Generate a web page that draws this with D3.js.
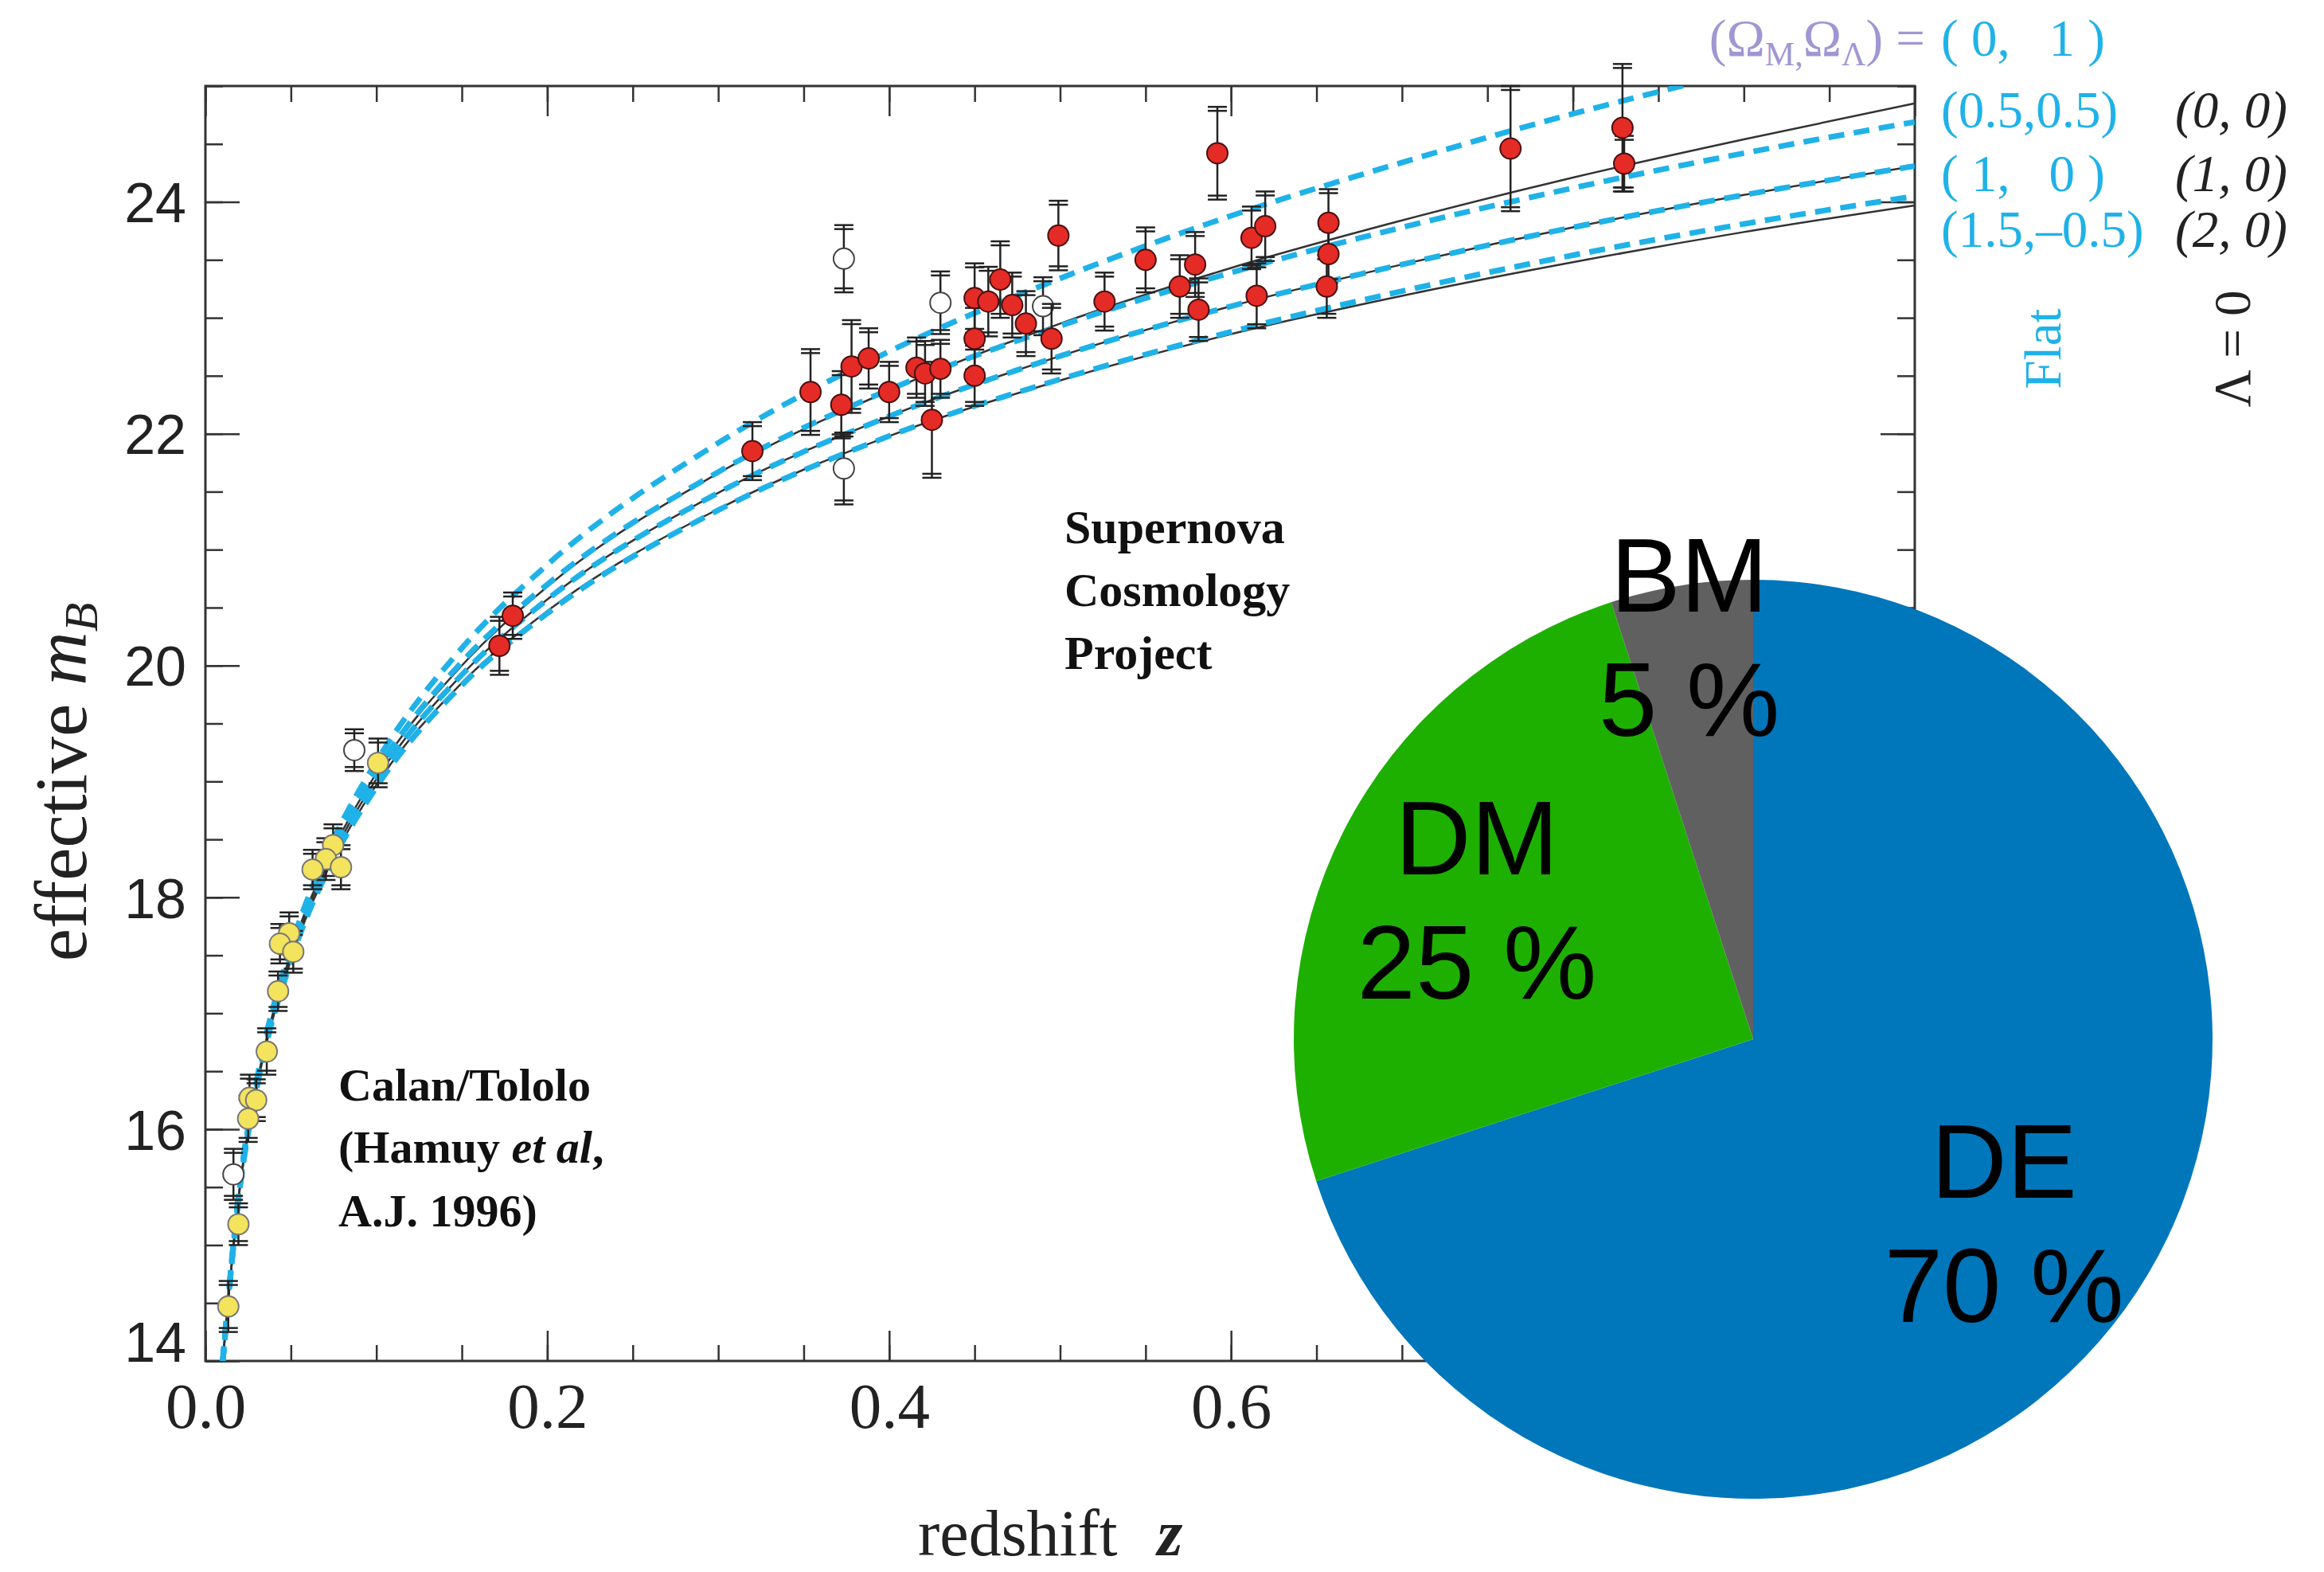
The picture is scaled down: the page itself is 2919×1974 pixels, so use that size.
<!DOCTYPE html>
<html><head><meta charset="utf-8">
<script src="https://cdn.jsdelivr.net/npm/d3@7"></script>
<style>body{margin:0;background:#fff}svg{display:block}text{white-space:pre}</style>
</head><body>
<script>
// ---------- model curves ----------
const zGrid      = [0.01,0.02,0.03,0.05,0.075,0.1,0.15,0.2,0.3,0.4,0.5,0.6,0.7,0.8,0.9,1.0];
const mFlat0_1   = [13.99,15.51,16.42,17.57,18.50,19.17,20.15,20.87,21.92,22.71,23.34,23.88,24.34,24.76,25.13,25.47];
const mFlat05_05 = [13.98,15.50,16.39,17.53,18.44,19.09,20.03,20.70,21.67,22.38,22.93,23.39,23.78,24.12,24.42,24.69];
const mFlat1_0   = [13.97,15.48,16.37,17.49,18.38,19.02,19.92,20.57,21.49,22.15,22.67,23.10,23.46,23.78,24.06,24.31];
const mFlat15_m05= [13.96,15.47,16.35,17.45,18.33,18.95,19.83,20.45,21.34,21.98,22.47,22.88,23.23,23.54,23.81,24.05];
const mL0_0_0    = [13.98,15.49,16.38,17.52,18.42,19.07,20.00,20.68,21.66,22.37,22.95,23.43,23.84,24.21,24.54,24.85];
const mL0_1_0    = [13.97,15.48,16.37,17.49,18.38,19.02,19.92,20.57,21.49,22.15,22.67,23.10,23.46,23.78,24.06,24.31];
const mL0_2_0    = [13.97,15.47,16.35,17.46,18.34,18.97,19.85,20.47,21.35,21.98,22.46,22.86,23.19,23.48,23.74,23.97];

// ---------- Supernova Cosmology Project (red) ----------
const scpZ   = [0.320,0.354,0.372,0.378,0.388,0.400,0.416,0.421,0.430,0.425,0.450,0.450,0.450,0.458,0.465,0.472,0.480,0.495,0.499,0.526,0.592,0.550,0.570,0.579,0.581,0.612,0.620,0.615,0.657,0.657,0.656,0.7635,0.829,0.830,0.1798,0.172];
const scpM   = [21.85,22.36,22.25,22.58,22.65,22.36,22.57,22.52,22.56,22.12,22.50,22.82,23.17,23.14,23.33,23.11,22.95,22.82,23.71,23.14,24.42,23.50,23.27,23.46,23.07,23.69,23.79,23.19,23.82,23.55,23.27,24.46,24.64,24.33,20.43,20.17];
const scpErr = [0.25,0.37,0.29,0.40,0.26,0.26,0.26,0.28,0.25,0.50,0.26,0.30,0.30,0.30,0.33,0.28,0.28,0.30,0.30,0.25,0.40,0.28,0.27,0.28,0.27,0.27,0.30,0.28,0.29,0.25,0.27,0.54,0.55,0.24,0.20,0.25];

// ---------- Calan/Tololo (yellow) ----------
const ctZ   = [0.101,0.0747,0.0705,0.0627,0.0793,0.049,0.0436,0.0514,0.0425,0.0359,0.0258,0.0297,0.025,0.0193,0.0134];
const ctM   = [19.16,18.45,18.33,18.24,18.26,17.69,17.60,17.53,17.19,16.67,16.27,16.25,16.09,15.18,14.47];
const ctErr = [0.21,0.18,0.18,0.17,0.19,0.18,0.17,0.18,0.17,0.20,0.20,0.18,0.20,0.18,0.22];

// ---------- open circles ----------
const opZ   = [0.3735,0.3735,0.430,0.490,0.0871,0.0164];
const opM   = [23.51,21.70,23.13,23.10,19.27,15.61];
const opErr = [0.29,0.31,0.27,0.25,0.18,0.22];

// ---------- axes ticks ----------
const xTickLabels = [0,0.2,0.4,0.6,0.8,1.0];
const yTickLabels = [14,16,18,20,22,24];

// ---------- pie ----------
const pieNames  = ["DE","DM","BM"];
const pieValues = [70,25,5];
const pieColors = ["#0076bb","#1eb000","#606060"];

// ================= drawing =================
const W=2919,H=1974;
const svg=d3.select("body").append("svg").attr("width",W).attr("height",H);
const x=d3.scaleLinear().domain([0,1]).range([258,2405]);
const y=d3.scaleLinear().domain([14,25]).range([1709,108]);
const serif="'Liberation Serif','Times New Roman',serif";
const sans="'Liberation Sans',Arial,Helvetica,sans-serif";
const cyan="#1fb2e8";

// axes
const xMinor=d3.range(0,1.0001,0.05), yMinor=d3.range(14,25.0001,0.5);
function styleAxis(g){g.select(".domain").remove();g.selectAll("line").attr("stroke","#333").attr("stroke-width",2.5);}
svg.append("g").attr("transform",`translate(0,${y(14)})`).call(d3.axisBottom(x).tickValues(xMinor).tickSize(-20).tickFormat("")).call(styleAxis);
svg.append("g").attr("transform",`translate(0,${y(14)})`)
  .call(d3.axisBottom(x).tickValues(xTickLabels).tickSize(-38).tickPadding(26).tickFormat(d3.format(".1f")))
  .call(styleAxis)
  .call(g=>g.selectAll("text").attr("font-family",serif).attr("font-size",81).attr("fill","#222"));
svg.append("g").attr("transform",`translate(0,${y(25)})`).call(d3.axisTop(x).tickValues(xMinor).tickSize(-20).tickFormat("")).call(styleAxis);
svg.append("g").attr("transform",`translate(0,${y(25)})`).call(d3.axisTop(x).tickValues(xTickLabels).tickSize(-38).tickFormat("")).call(styleAxis);
svg.append("g").attr("transform",`translate(${x(0)},0)`).call(d3.axisLeft(y).tickValues(yMinor).tickSize(-22).tickFormat("")).call(styleAxis);
svg.append("g").attr("transform",`translate(${x(0)},0)`)
  .call(d3.axisLeft(y).tickValues(yTickLabels).tickSize(-43).tickPadding(24).tickFormat(d3.format("d")))
  .call(styleAxis)
  .call(g=>g.selectAll("text").attr("font-family",sans).attr("font-size",70).attr("fill","#222")
    .attr("dy",d=>d===14?"0.0em":"0.36em"));
svg.append("g").attr("transform",`translate(${x(1)},0)`).call(d3.axisRight(y).tickValues(yMinor).tickSize(-22).tickFormat("")).call(styleAxis);
svg.append("g").attr("transform",`translate(${x(1)},0)`).call(d3.axisRight(y).tickValues(yTickLabels).tickSize(-43).tickFormat("")).call(styleAxis);

// frame
svg.append("rect").attr("x",x(0)).attr("y",y(25)).attr("width",x(1)-x(0)).attr("height",y(14)-y(25))
  .attr("fill","none").attr("stroke","#333").attr("stroke-width",3);

// clip
svg.append("clipPath").attr("id","clip").append("rect")
  .attr("x",x(0)).attr("y",y(25)).attr("width",x(1)-x(0)).attr("height",y(14)-y(25));
const curves=svg.append("g").attr("clip-path","url(#clip)");
const line=d3.line().x((d,i)=>x(zGrid[i])).y(d=>y(d)).curve(d3.curveMonotoneX);
[mL0_0_0,mL0_1_0,mL0_2_0].forEach(s=>curves.append("path").attr("d",line(s)).attr("fill","none").attr("stroke","#333").attr("stroke-width",2.5));
[mFlat0_1,mFlat05_05,mFlat1_0,mFlat15_m05].forEach(s=>curves.append("path").attr("d",line(s)).attr("fill","none").attr("stroke",cyan).attr("stroke-width",7).attr("stroke-dasharray","20,12"));

// points with error bars
function drawSet(zs,ms,es,fill,stroke,r){
  const g=svg.append("g");
  zs.forEach((z,i)=>{
    const cx=x(z), y1=y(ms[i]+es[i]), y2=y(ms[i]-es[i]);
    g.append("line").attr("x1",cx).attr("x2",cx).attr("y1",y1).attr("y2",y2).attr("stroke","#222").attr("stroke-width",2.5);
    [[y1,5],[y2,-5]].forEach(([yy,off])=>{
      [0,off].forEach(o=>g.append("line").attr("x1",cx-12).attr("x2",cx+12).attr("y1",yy+o).attr("y2",yy+o).attr("stroke","#222").attr("stroke-width",2.5));
    });
  });
  zs.forEach((z,i)=>{
    g.append("circle").attr("cx",x(z)).attr("cy",y(ms[i])).attr("r",r).attr("fill",fill).attr("stroke",stroke).attr("stroke-width",2);
  });
}
drawSet(opZ,opM,opErr,"#fff","#444",13);
drawSet(ctZ,ctM,ctErr,"#f4e35c","#777",13);
drawSet(scpZ,scpM,scpErr,"#e42b26","#4a1010",13);

// annotations in plot
const ann1=svg.append("text").attr("font-family",serif).attr("font-size",60).attr("font-weight","bold").attr("fill","#111");
[["Supernova",682],["Cosmology",761],["Project",840]].forEach(([t,b])=>ann1.append("tspan").attr("x",1337).attr("y",b).text(t));
const ann2=svg.append("text").attr("font-family",serif).attr("font-size",58).attr("font-weight","bold").attr("fill","#111");
ann2.append("tspan").attr("x",425).attr("y",1382).text("Calan/Tololo");
ann2.append("tspan").attr("x",425).attr("y",1460).text("(Hamuy ");
ann2.append("tspan").attr("font-style","italic").text("et al");
ann2.append("tspan").text(",");
ann2.append("tspan").attr("x",425).attr("y",1540).text("A.J. 1996)");

// axis titles
const xt=svg.append("text").attr("x",1153).attr("y",1953).attr("font-family",serif).attr("font-size",82).attr("fill","#222").text("redshift");
xt.append("tspan").attr("dx",50).attr("font-style","italic").attr("font-weight","bold").text("z");
const yt=svg.append("text").attr("transform","translate(108,982) rotate(-90)").attr("text-anchor","middle")
  .attr("font-family",serif).attr("font-size",93).attr("fill","#222").text("effective ");
yt.append("tspan").attr("font-style","italic").text("m");
yt.append("tspan").attr("font-style","italic").attr("font-size",60).attr("dy",14).text("B");

// legend texts on the right
const purple="#a096d2";
const t0=svg.append("text").attr("x",2418).attr("y",70).attr("text-anchor","end").attr("font-family",serif).attr("font-size",65).attr("fill",purple).text("(Ω");
t0.append("tspan").attr("font-size",42).attr("dy",12).text("M,");
t0.append("tspan").attr("dy",-12).text("Ω");
t0.append("tspan").attr("font-size",42).attr("dy",12).text("Λ");
t0.append("tspan").attr("dy",-12).text(") =");
const flatLabels=["( 0,   1 )","(0.5,0.5)","( 1,   0 )","(1.5,–0.5)"];
const lambdaLabels=["(0, 0)","(1, 0)","(2, 0)"];
const rowBase=[70,160,240,310];
flatLabels.forEach((t,i)=>svg.append("text").attr("x",2438).attr("y",rowBase[i]).attr("font-family",serif).attr("font-size",65).attr("fill",cyan).text(t));
lambdaLabels.forEach((t,i)=>svg.append("text").attr("x",2732).attr("y",rowBase[i+1]).attr("font-family",serif).attr("font-size",65).attr("font-style","italic").attr("fill","#222").text(t));
svg.append("text").attr("transform","translate(2588,438) rotate(-90)").attr("text-anchor","middle").attr("font-family",serif).attr("font-size",65).attr("fill",cyan).text("Flat");
svg.append("text").attr("transform","translate(2826,438) rotate(-90)").attr("text-anchor","middle").attr("font-family",serif).attr("font-size",65).attr("fill","#222").text("Λ = 0");

// pie
const R=577, pcx=2202, pcy=1305;
const arcs=d3.pie().sort(null).value(d=>d)(pieValues);
const arc=d3.arc().innerRadius(0).outerRadius(R);
const pg=svg.append("g").attr("transform",`translate(${pcx},${pcy})`);
pg.selectAll("path").data(arcs).join("path").attr("d",arc).attr("fill",(d,i)=>pieColors[i]);
const lblK=[0.675,0.675,0.89];
arcs.forEach((d,i)=>{
  const a=d3.arc().innerRadius(R*lblK[i]).outerRadius(R*lblK[i]);
  const [lx,ly]=a.centroid(d);
  const t=pg.append("text").attr("text-anchor","middle").attr("font-family",sans).attr("font-size",132).attr("fill","#000");
  t.append("tspan").attr("x",lx).attr("y",ly-30).text(pieNames[i]);
  t.append("tspan").attr("x",lx).attr("y",ly+126).text(pieValues[i]+" %");
});
</script>
</body></html>
